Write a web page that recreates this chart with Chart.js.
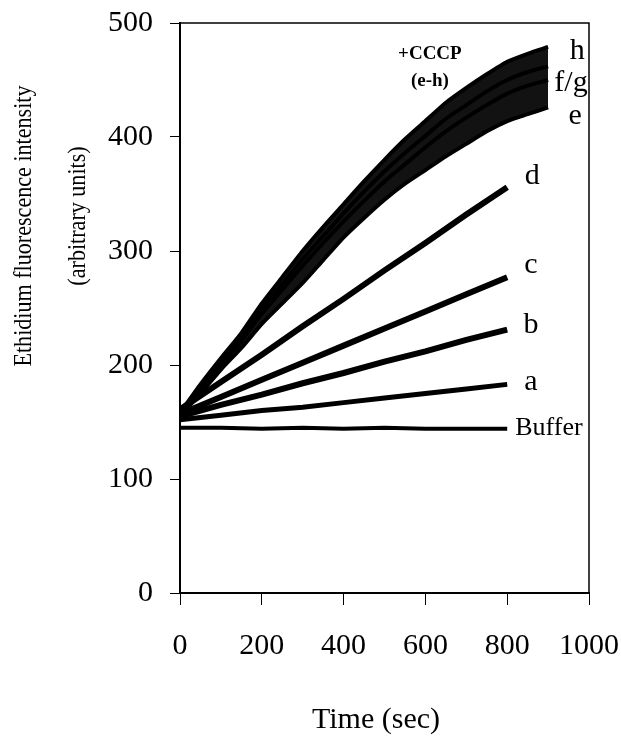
<!DOCTYPE html>
<html>
<head>
<meta charset="utf-8">
<script src="https://cdn.jsdelivr.net/npm/chart.js@4.4.1/dist/chart.umd.min.js"></script>
<style>
  body { margin: 0; background: #fff; }
  canvas { display: block; }
</style>
</head>
<body>
<canvas id="myChart" width="621" height="738"></canvas>
<script>
// time points (sec)
const timeCurve = [0, 50, 100, 150, 200, 250, 300, 350, 400, 450, 500, 550, 600, 650, 700, 750, 800, 850, 900];
const timeLine = [0, 100, 200, 300, 400, 500, 600, 700, 800];

// +CCCP traces e-h
const traceE = [155, 175, 196, 215, 236, 254, 272, 292, 312, 329, 345, 359, 371, 383, 394, 405, 414, 420, 426];
const traceF = [156, 178, 200, 221, 245, 266, 287, 307, 326, 344, 361, 376, 391, 405, 417, 428, 438, 445, 450];
const traceG = [157, 180, 203, 224, 249, 271, 293, 313, 333, 352, 370, 386, 401, 416, 428, 440, 450, 457, 462];
const traceH = [158, 183, 206, 228, 254, 277, 300, 321, 341, 361, 380, 398, 414, 430, 443, 455, 466, 473, 479];

// traces a-d and buffer
const traceD = [161, 185, 209, 234, 258, 283, 307, 332, 356];
const traceC = [157, 172, 187, 202, 217, 232, 247, 262, 277];
const traceB = [155, 165, 174, 184, 193, 203, 212, 222, 231];
const traceA = [152, 156, 160, 163, 167, 171, 175, 179, 183];
const traceBuffer = [145, 145, 144, 145, 144, 145, 144, 144, 144];

const xTicks = [0, 200, 400, 600, 800, 1000];
const yTicks = [0, 100, 200, 300, 400, 500];

// curve labels, placed in data units
const labelText = ['h', 'f/g', 'e', 'd', 'c', 'b', 'a', 'Buffer'];
const labelTime = [971, 956, 966, 861, 858, 858, 858, 902];
const labelValue = [468, 440, 411, 359, 281, 228, 178, 139];

const serif = '"Liberation Serif", "Times New Roman", serif';

function pts(ts, vs) {
    return ts.map((t, i) => ({ x: t, y: vs[i] }));
}

function trace(ts, vs, width, extra) {
    return Object.assign({
        data: pts(ts, vs),
        borderColor: '#000',
        borderWidth: width,
        pointRadius: 0,
        tension: 0.2,
        fill: false
    }, extra || {});
}

const textPlugin = {
    id: 'texts',
    afterDraw(chart) {
        const c = chart.ctx;
        const x = chart.scales.x;
        const y = chart.scales.y;
        const area = chart.chartArea;
        c.save();
        // frame
        c.strokeStyle = '#000';
        c.lineWidth = 1.5;
        c.strokeRect(area.left, area.top, area.right - area.left, area.bottom - area.top);

        c.fillStyle = '#000';
        c.textBaseline = 'alphabetic';
        c.textAlign = 'center';
        for (let i = 0; i < labelText.length; i++) {
            c.font = (labelText[i] === 'Buffer' ? '26px ' : '30px ') + serif;
            c.fillText(labelText[i], x.getPixelForValue(labelTime[i]), y.getPixelForValue(labelValue[i]));
        }
        c.font = 'bold 19px ' + serif;
        c.fillText('+CCCP', x.getPixelForValue(611), y.getPixelForValue(468));
        c.fillText('(e-h)', x.getPixelForValue(611), y.getPixelForValue(445));

        // axis titles
        c.font = '30px ' + serif;
        c.fillText('Time (sec)', 376, 728);
        // y title is a bit condensed in the original
        c.font = '26px ' + serif;
        c.textBaseline = 'middle';
        c.save();
        c.translate(24, 226);
        c.rotate(-Math.PI / 2);
        c.scale(0.85, 1);
        c.fillText('Ethidium fluorescence intensity', 0, 0);
        c.restore();
        c.save();
        c.translate(78, 216);
        c.rotate(-Math.PI / 2);
        c.scale(0.85, 1);
        c.fillText('(arbitrary units)', 0, 0);
        c.restore();
        c.restore();
    }
};

let ctx = document.getElementById('myChart').getContext('2d');
let myChart = new Chart(ctx, {
    type: 'line',
    data: {
        datasets: [
            trace(timeCurve, traceE, 4),
            trace(timeCurve, traceF, 4),
            trace(timeCurve, traceG, 4),
            trace(timeCurve, traceH, 4, { fill: '-3', backgroundColor: 'rgba(0, 0, 0, 0.93)' }),
            trace(timeLine, traceD, 6, { tension: 0 }),
            trace(timeLine, traceC, 6, { tension: 0 }),
            trace(timeLine, traceB, 6, { tension: 0 }),
            trace(timeLine, traceA, 5, { tension: 0 }),
            trace(timeLine, traceBuffer, 4, { tension: 0 })
        ]
    },
    options: {
        responsive: false,
        animation: false,
        layout: { autoPadding: false, padding: { top: 23, right: 32, left: 0, bottom: 0 } },
        plugins: {
            legend: { display: false },
            tooltip: { enabled: false }
        },
        scales: {
            x: {
                type: 'linear',
                min: 0,
                max: 1000,
                afterFit: (scale) => {
                    scale.height = 145;
                    scale.paddingLeft = 0;
                    scale.paddingRight = 0;
                },
                afterBuildTicks: (scale) => { scale.ticks = xTicks.map(v => ({ value: v })); },
                ticks: {
                    color: '#000',
                    padding: 26,
                    maxRotation: 0,
                    callback: (v) => String(v),
                    font: { family: serif, size: 30, lineHeight: 1 }
                },
                grid: { drawOnChartArea: false, drawTicks: true, tickLength: 12, color: '#000' },
                border: { color: '#000', width: 2 }
            },
            y: {
                min: 0,
                max: 500,
                afterFit: (scale) => {
                    scale.width = 180;
                    scale.paddingTop = 0;
                    scale.paddingBottom = 0;
                },
                afterBuildTicks: (scale) => { scale.ticks = yTicks.map(v => ({ value: v })); },
                ticks: {
                    color: '#000',
                    padding: 17,
                    callback: (v) => String(v),
                    font: { family: serif, size: 30, lineHeight: 1 }
                },
                grid: { drawOnChartArea: false, drawTicks: true, tickLength: 10, color: '#000' },
                border: { color: '#000', width: 2 }
            }
        }
    },
    plugins: [textPlugin]
});
</script>
</body>
</html>
